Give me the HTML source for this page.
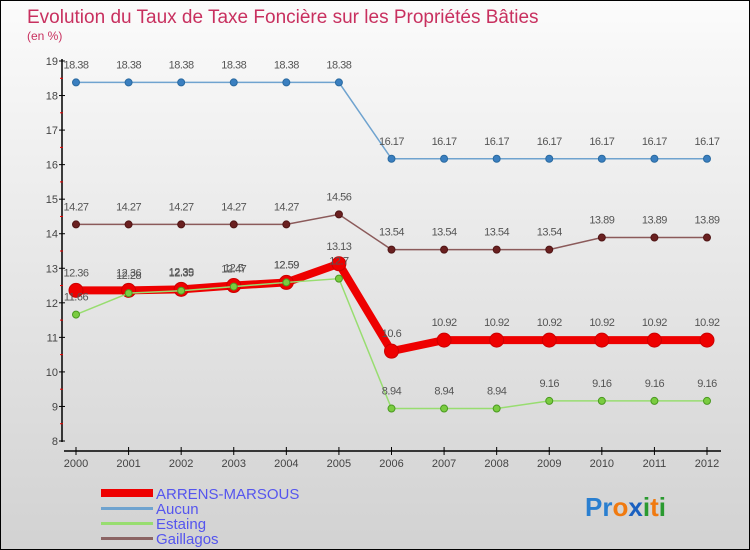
<!DOCTYPE html>
<html><head><meta charset="utf-8"><style>
body{margin:0}
#c{position:relative;width:748px;height:548px;border:1px solid #000;background:linear-gradient(#fbfbfb,#d2d2d2);font-family:"Liberation Sans",sans-serif;overflow:hidden}
</style></head><body>
<div id="c">
<svg id="s" width="748" height="548">
<text x="26" y="22" font-size="19" fill="#c8305f">Evolution du Taux de Taxe Foncière sur les Propriétés Bâties</text>
<text x="26" y="39" font-size="12" fill="#c8305f">(en %)</text>
<g id="axes"></g><g id="series"></g>
<g>
<rect x="100" y="488" width="52" height="8" fill="#e00"/>
<text x="155" y="498" font-size="15" fill="#5555ee">ARRENS-MARSOUS</text>
<rect x="100" y="506" width="52" height="3" fill="#6fa3cf"/>
<text x="155" y="513" font-size="15" fill="#5555ee">Aucun</text>
<rect x="100" y="521" width="52" height="3" fill="#98dd70"/>
<text x="155" y="528" font-size="15" fill="#5555ee">Estaing</text>
<rect x="100" y="536" width="52" height="3" fill="#8b6464"/>
<text x="155" y="543" font-size="15" fill="#5555ee">Gaillagos</text>
</g>
<text x="584" y="515" font-size="26" font-weight="bold"><tspan fill="#2a7fd0">Pr</tspan><tspan fill="#f07a10">o</tspan><tspan fill="#1a60c0">x</tspan><tspan fill="#2a9a30">i</tspan><tspan fill="#f07a10">t</tspan><tspan fill="#2a9a30">i</tspan></text>
</svg></div>
<script>
const years=[2000,2001,2002,2003,2004,2005,2006,2007,2008,2009,2010,2011,2012];
const arrens=[12.36,12.36,12.39,12.5,12.59,13.13,10.6,10.92,10.92,10.92,10.92,10.92,10.92];
const aucun=[18.38,18.38,18.38,18.38,18.38,18.38,16.17,16.17,16.17,16.17,16.17,16.17,16.17];
const estaing=[11.66,12.28,12.35,12.47,12.59,12.7,8.94,8.94,8.94,9.16,9.16,9.16,9.16];
const gaillagos=[14.27,14.27,14.27,14.27,14.27,14.56,13.54,13.54,13.54,13.54,13.89,13.89,13.89];
const yTicks=[8,9,10,11,12,13,14,15,16,17,18,19];
const NS="http://www.w3.org/2000/svg";
const X=i=>75+i*(706-75)/(years.length-1);
const Y=v=>440-(v-8)*(440-60)/11;
function mk(t,a,p){const e=document.createElementNS(NS,t);for(const k in a)e.setAttribute(k,a[k]);p.appendChild(e);return e;}
const ax=document.getElementById('axes');
const ya=mk('line',{x1:61,y1:58,x2:61,y2:441,stroke:'#000','stroke-width':1.5},ax);


const xa=mk('line',{x1:63,y1:450,x2:720,y2:450,stroke:'#000','stroke-width':1.5},ax);


yTicks.forEach(v=>{
 mk('line',{x1:58,x2:64,y1:Y(v),y2:Y(v),stroke:'#000'},ax);
 if(v<19) mk('line',{x1:59,x2:62,y1:Y(v+0.5),y2:Y(v+0.5),stroke:'#e00'},ax);
 const t=mk('text',{x:57,y:Y(v)+4,'font-size':11,fill:'#444','text-anchor':'end'},ax);t.textContent=v;
 
 
});
years.forEach((yr,i)=>{
 mk('line',{x1:X(i),x2:X(i),y1:446,y2:454,stroke:'#000'},ax);
 const t=mk('text',{x:X(i),y:466,'font-size':11,fill:'#444','text-anchor':'middle'},ax);t.textContent=yr;
 
 
});
const sg=document.getElementById('series');
function series(name,vals,color,w,r,dot,dotStroke){
 const g=mk('g',{},sg);
 
 
 mk('polyline',{points:vals.map((v,i)=>X(i)+','+Y(v)).join(' '),fill:'none',stroke:color,'stroke-width':w},g);
 vals.forEach((v,i)=>{
  const c=mk('circle',{cx:X(i),cy:Y(v),r:r,fill:dot,stroke:dotStroke,'stroke-width':1},g);
  
  
  const t=mk('text',{x:X(i),y:Y(v)-14,'font-size':11,fill:'#555','text-anchor':'middle','letter-spacing':'-0.5'},g);t.textContent=v;
  
  
 });
}
series('aucun',aucun,'#6fa3cf',1.5,3.5,'#3a7fc0','#2a6aa0');
series('gaillagos',gaillagos,'#8b5a5a',1.5,3.5,'#6a2020','#501515');
series('arrens',arrens,'#e00',8,7,'#e00','#c00');
series('estaing',estaing,'#98dd70',1.5,3.5,'#7acc40','#4a9a20');
</script>
</body></html>
